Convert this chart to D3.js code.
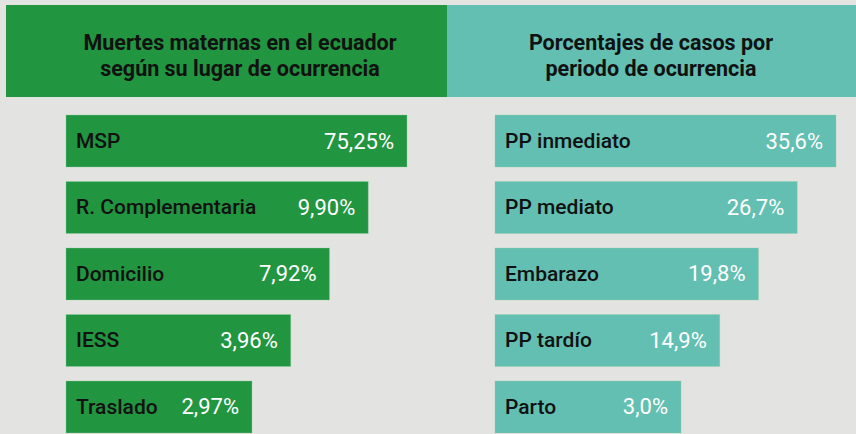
<!DOCTYPE html>
<html lang="es">
<head>
    <meta charset="UTF-8">
    <title>Muertes maternas en el Ecuador</title>
    <script src="https://d3js.org/d3.v7.min.js"></script>
    <style>
        body { margin: 0; background: #e3e3e1; }
        svg { display: block; font-family: Roboto, "Noto Sans", sans-serif; }
    </style>
</head>
<body>
    <svg width="856" height="434"></svg>

    <script>
        // Datos
        const lugares = ["MSP", "R. Complementaria", "Domicilio", "IESS", "Traslado"];
        const lugarValores = ["75,25%", "9,90%", "7,92%", "3,96%", "2,97%"];
        const periodos = ["PP inmediato", "PP mediato", "Embarazo", "PP tardío", "Parto"];
        const periodoValores = ["35,6%", "26,7%", "19,8%", "14,9%", "3,0%"];
        const tituloIzq = ["Muertes maternas en el ecuador", "según su lugar de ocurrencia"];
        const tituloDer = ["Porcentajes de casos por", "periodo de ocurrencia"];

        const width = 856, height = 434;
        const svg = d3.select("svg");

        svg.append("rect").attr("width", width).attr("height", height).attr("fill", "#e3e3e1");

        // bandas del encabezado
        svg.append("rect").attr("x", 6).attr("y", 5).attr("width", 441).attr("height", 92).attr("fill", "#21953f");
        svg.append("rect").attr("x", 447).attr("y", 5).attr("width", 409).attr("height", 92).attr("fill", "#62bfb1");

        function titulo(lines, cx) {
            svg.append("g").selectAll("text")
                .data(lines)
                .join("text")
                .attr("x", cx)
                .attr("y", (d, i) => 50 + i * 26)
                .attr("text-anchor", "middle")
                .style("font-size", "21.5px")
                .style("font-weight", "bold")
                .attr("fill", "#111")
                .text(d => d);
        }
        titulo(tituloIzq, 240);
        titulo(tituloDer, 651);

        // las barras bajan de forma escalonada según el orden, no según el valor
        const y = d3.scaleBand()
            .domain(d3.range(5))
            .range([115, 433])
            .paddingInner(0.218)
            .paddingOuter(0);

        const largo = d3.scaleLinear()
            .domain([0, 4])
            .range([341, 186]);

        function panel(cats, vals, x0, color) {
            const g = svg.append("g");
            const rows = g.selectAll("g")
                .data(cats.map((c, i) => ({c, v: vals[i], i})))
                .join("g")
                .attr("transform", d => `translate(${x0},${y(d.i)})`);

            rows.append("rect")
                .attr("width", d => largo(d.i))
                .attr("height", y.bandwidth())
                .attr("fill", color)
                .attr("stroke", "#8fd0a0")
                .attr("stroke-opacity", 0.35);

            rows.append("text")
                .attr("x", 10)
                .attr("y", y.bandwidth() / 2 + 7)
                .style("font-size", "21px")
                .style("font-weight", 500)
                .attr("fill", "#111")
                .text(d => d.c);

            rows.append("text")
                .attr("x", d => largo(d.i) - 13)
                .attr("y", y.bandwidth() / 2 + 7.5)
                .attr("text-anchor", "end")
                .style("font-size", "22px")
                .attr("fill", "#fff")
                .text(d => d.v);
        }

        panel(lugares, lugarValores, 66, "#21953f");
        panel(periodos, periodoValores, 495, "#62bfb1");
    </script>
</body>
</html>
